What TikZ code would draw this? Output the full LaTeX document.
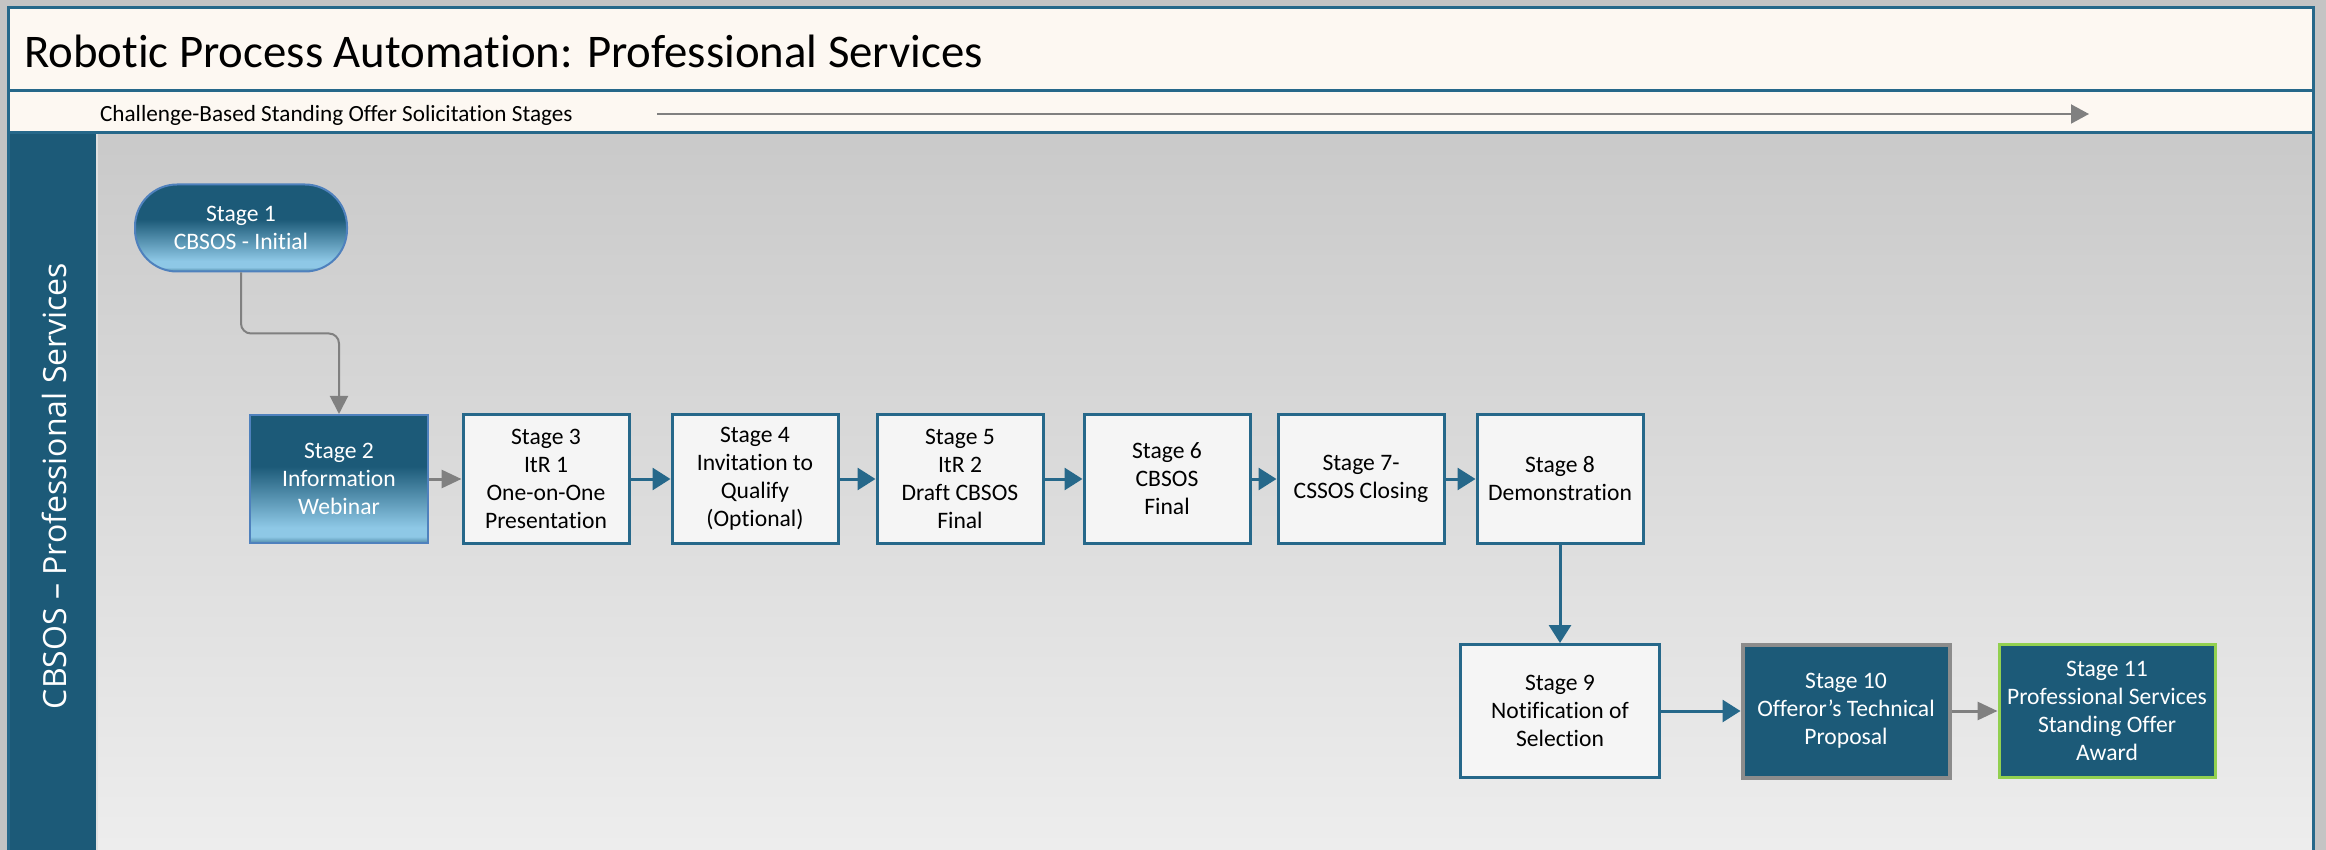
\documentclass[tikz,border=0pt]{standalone}
\usepackage{fontspec}
\setmainfont[Ligatures=NoCommon]{Carlito}
\newfontfamily\lanefont{Open Sans}
\usetikzlibrary{positioning,calc,arrows.meta}
\definecolor{deepteal}{RGB}{28,90,120}
\definecolor{edgeteal}{RGB}{38,104,138}
\definecolor{skyblue}{RGB}{142,200,230}
\definecolor{cream}{RGB}{253,248,242}
\definecolor{paleslate}{RGB}{245,245,245}
\definecolor{limeedge}{RGB}{146,208,80}
\definecolor{frameblue}{RGB}{79,129,189}
\pgfdeclareverticalshading{glossteal}{100bp}{color(0bp)=(deepteal!55!skyblue);
  color(25bp)=(deepteal!55!skyblue); color(27.5bp)=(skyblue); color(31bp)=(skyblue);
  color(55bp)=(deepteal); color(100bp)=(deepteal)}

\begin{document}
\begin{tikzpicture}[x=0.5pt,y=-0.5pt,font=\fontsize{11.8}{14}\selectfont]
  \tikzset{
    stagebox/.style={draw=edgeteal,line width=1.5pt,fill=paleslate,
                     minimum width=83pt,minimum height=64pt,inner sep=2pt,
                     align=center,text=black},
    lowbox/.style={stagebox,minimum height=66.5pt},
    glossy/.style={draw=frameblue,line width=1pt,shading=glossteal,text=white,
                   align=center,inner sep=2pt},
    flow/.style={draw=edgeteal,line width=1.5pt,-{Triangle[length=9pt,width=11pt]}},
    greyflow/.style={draw=gray,line width=1.5pt,-{Triangle[length=10pt,width=9pt]}},
  }
  % ---- frame and bands ----
  \useasboundingbox (0,0) rectangle (2326,850);
  \fill[black!23] (0,0) rectangle (2326,850);
  \fill[cream] (8,8) rectangle (2313,133);
  \shade[top color=black!21,bottom color=black!7] (97,133) rectangle (2313,850);
  \fill[deepteal] (8,133) rectangle (97,850);
  \draw[black!12,line width=0.8pt] (97,133) -- (97,850);
  \draw[edgeteal,line width=1.5pt] (8,850) -- (8,8) -- (2313,8) -- (2313,850);
  \draw[edgeteal,line width=1.5pt] (8,91) -- (2313,91);
  \draw[edgeteal,line width=1.5pt] (8,133) -- (2313,133);
  % ---- headings ----
  \node[anchor=west,font=\fontsize{23.4}{28}\selectfont] (title) at (17,51)
       {Robotic Process Automation: Professional Services};
  \node[anchor=west,font=\fontsize{11.6}{14}\selectfont] (subtitle) at (93,115)
       {Challenge-Based Standing Offer Solicitation Stages};
  \coordinate (runfrom) at (657,114);
  \coordinate (runto) at (2089,114);
  \draw[greyflow,line width=1pt,-{Triangle[length=9pt,width=9.5pt]}] (runfrom) -- (runto);
  \node[rotate=90,text=white,font=\lanefont\fontsize{16}{19}\selectfont] (lane) at (54,486)
       {CBSOS – Professional Services};
  % ---- stages, upper row ----
  \node[glossy,rounded corners=21pt,minimum width=106pt,minimum height=43.5pt] (s1)
       at (241,228) {Stage 1\\CBSOS - Initial};
  \node[glossy,minimum width=89pt,minimum height=64pt] (s2) at (339,479)
       {Stage 2\\Information\\Webinar};
  \node[stagebox] (s3) at (546,479) {Stage 3\\ItR 1\\One-on-One\\Presentation};
  \node[stagebox] (s4) at (755,479) {Stage 4\\Invitation to\\Qualify\\(Optional)};
  \node[stagebox] (s5) at (960,479) {Stage 5\\ItR 2\\Draft CBSOS\\Final};
  \node[stagebox] (s6) at (1167,479) {Stage 6\\CBSOS\\Final};
  \node[stagebox] (s7) at (1361,479) {Stage 7-\\CSSOS Closing};
  \node[stagebox] (s8) at (1560,479) {Stage 8\\Demonstration};
  % ---- stages, lower row ----
  \node[lowbox,minimum width=99.5pt] (s9) at (1560,711)
       {Stage 9\\Notification of\\Selection};
  \node[lowbox,minimum width=103.5pt,fill=deepteal,text=white,draw=gray!90,
        line width=2pt] (s10) at (1846,711) {Stage 10\\Offeror’s Technical\\Proposal};
  \node[lowbox,minimum width=108pt,fill=deepteal,text=white,draw=limeedge] (s11)
       at (2107,711) {Stage 11\\Professional Services\\Standing Offer\\Award};
  % ---- connectors ----
  \draw[greyflow,line width=1pt,rounded corners=5pt,-{Triangle[length=9pt,width=9pt]}]
       (s1.south) -- ++(0,61) -| (s2.north);
  \draw[greyflow] (s2) -- (s3);
  \foreach \a/\b in {s3/s4,s4/s5,s5/s6,s6/s7,s7/s8,s8/s9,s9/s10}
    \draw[flow] (\a) -- (\b);
  \draw[greyflow] (s10) -- (s11);
\end{tikzpicture}
\end{document}
